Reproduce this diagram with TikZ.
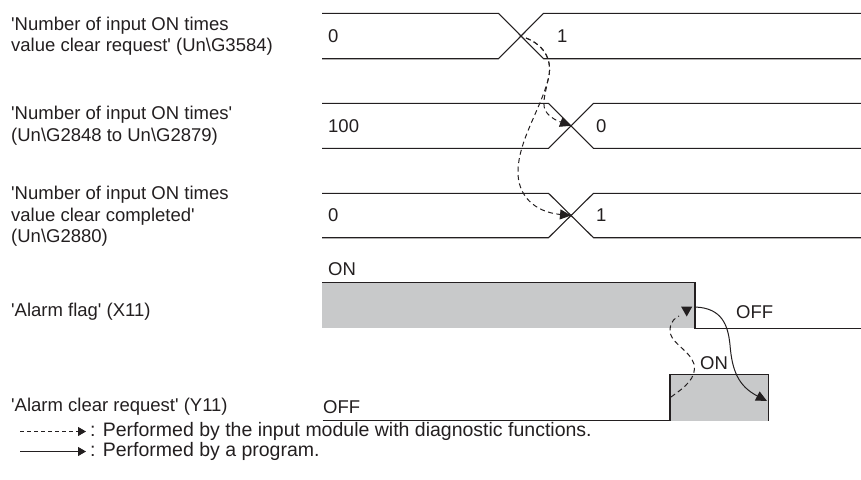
\documentclass[tikz,border=0pt]{standalone}
\usepackage{fontspec}
\setmainfont{Liberation Sans}
\usetikzlibrary{arrows.meta}
\definecolor{ink}{RGB}{35,31,32}
\definecolor{boxgray}{RGB}{200,201,202}
\newcommand{\sq}{\textquotesingle}
\begin{document}
\begin{tikzpicture}[x=1pt,y=-1pt,
  font=\fontsize{18.5}{21.5}\selectfont,
  sig/.style={draw=ink, line width=1.1pt},
  lbl/.style={anchor=west, align=left, inner sep=0pt, text=ink},
  val/.style={anchor=west, inner sep=0pt, text=ink},
  legtext/.style={anchor=west, inner sep=0pt, text=ink, font=\fontsize{19.5}{22}\selectfont},
  dsh/.style={draw=ink, line width=1pt, dash pattern=on 5pt off 3.5pt},
  dsharrow/.style={dsh, -{Triangle[length=11pt,width=10pt]}},
  sldarrow/.style={draw=ink, line width=1pt, -{Triangle[length=11pt,width=10pt]}},
  legdash/.style={draw=ink, line width=0.9pt, dash pattern=on 4pt off 3pt, -{Triangle[length=8pt,width=9pt]}},
  legsolid/.style={draw=ink, line width=0.9pt, -{Triangle[length=8pt,width=9pt]}}]

\useasboundingbox (0,0) rectangle (861,479);

% ---- left labels
\node[lbl] (lab1) at (11,36) {\sq Number of input ON times\\value clear request\sq{} (Un\textbackslash G3584)};
\node[lbl] (lab2) at (11,125.5) {\sq Number of input ON times\sq\\(Un\textbackslash G2848 to Un\textbackslash G2879)};
\node[lbl] (lab3) at (11,216.5) {\sq Number of input ON times\\value clear completed\sq\\(Un\textbackslash G2880)};
\node[lbl] (lab4) at (11,311.7) {\sq Alarm flag\sq{} (X11)};
\node[lbl] (lab5) at (11,406.7) {\sq Alarm clear request\sq{} (Y11)};

% ---- row 1
\draw[sig] (322,13.3) -- (498.5,13.3) -- (543.5,58.7) -- (861,58.7);
\draw[sig] (322,58.7) -- (498.5,58.7) -- (543.5,13.3) -- (861,13.3);
\coordinate (x1) at (521,36);
\node[val] (v1a) at (328,36) {0};
\node[val] (v1b) at (557,36) {1};

% ---- row 2
\draw[sig] (322,103.3) -- (548.5,103.3) -- (593.5,148.3) -- (861,148.3);
\draw[sig] (322,148.3) -- (548.5,148.3) -- (593.5,103.3) -- (861,103.3);
\coordinate (x2) at (571,125.8);
\node[val] (v2a) at (328,125.8) {100};
\node[val] (v2b) at (596,125.8) {0};

% ---- row 3
\draw[sig] (322,193.3) -- (548.5,193.3) -- (593.5,237.7) -- (861,237.7);
\draw[sig] (322,237.7) -- (548.5,237.7) -- (593.5,193.3) -- (861,193.3);
\coordinate (x3) at (571,215.5);
\node[val] (v3a) at (328,215.5) {0};
\node[val] (v3b) at (596,215.5) {1};

% ---- row 4 : Alarm flag
\fill[boxgray] (322,282.7) rectangle (695,328.3);
\draw[sig] (322,282.7) -- (695,282.7) -- (695,328.3) -- (861,328.3);
\node[val] (on4) at (328,269) {ON};
\node[val] (off4) at (736,311.7) {OFF};
\coordinate (fall4) at (695,307);
\coordinate (tip4) at (686.7,316.5);

% ---- row 5 : Alarm clear request
\fill[boxgray] (670,374.3) rectangle (768.3,420.7);
\draw[sig] (322.7,420.7) -- (670,420.7) -- (670,374.3) -- (768.3,374.3) -- (768.3,420.7);
\node[val] (off5) at (323,407.5) {OFF};
\node[val] (on5) at (700,363.3) {ON};
\coordinate (rise5) at (671,397);
\coordinate (fall5) at (767,401);

% ---- dashed connectors (module)
\coordinate (s1) at (526,38);
\draw[dsharrow] (s1) .. controls (546,46) and (553,62) .. (548,80)
   .. controls (545,95) and (541,106) .. (547,113)
   .. controls (552,119) and (558,121) .. (x2);
\draw[dsharrow] (s1) .. controls (546,46) and (553,62) .. (548,80)
   .. controls (540,110) and (519,140) .. (518,170)
   .. controls (517,196) and (535,212) .. (x3);
\draw[dsh] (rise5) .. controls (685,387) and (697,378) .. (694,364)
   .. controls (690,350) and (668,342) .. (670,329)
   .. controls (671,321) and (675,318) .. (679,316);
\fill[ink] (681,306.5) -- (692.3,306.5) -- (tip4) -- cycle;

% ---- solid connector (program)
\draw[sldarrow] (fall4) .. controls (722,308) and (728,325) .. (730,345)
   .. controls (732,370) and (738,386) .. (fall5);

% ---- legend
\coordinate (ld1) at (20,431.5);
\coordinate (ld2) at (86,431.5);
\coordinate (ls1) at (20,451.5);
\coordinate (ls2) at (86,451.5);
\draw[legdash] (ld1) -- (ld2);
\draw[legsolid] (ls1) -- (ls2);
\node[legtext] (leg1) at (90,431.5) {: Performed by the input module with diagnostic functions.};
\node[legtext] (leg2) at (90,451.5) {: Performed by a program.};
\end{tikzpicture}
\end{document}
